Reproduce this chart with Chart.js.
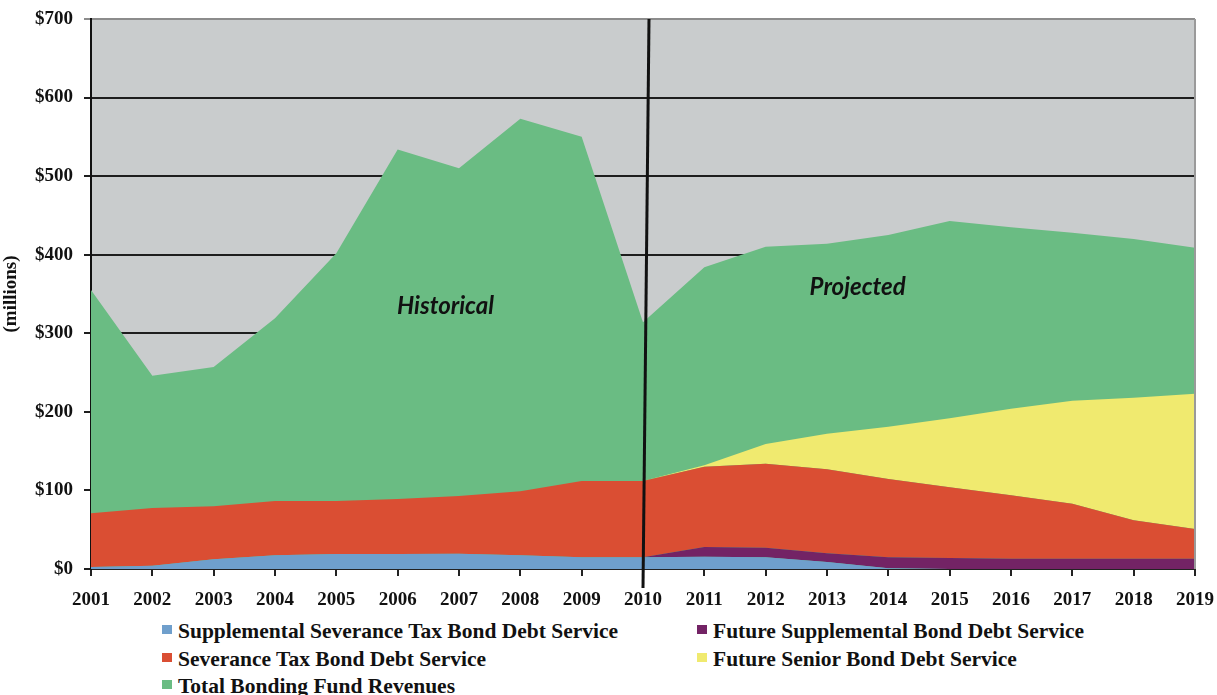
<!DOCTYPE html>
<html>
<head>
<meta charset="utf-8">
<script src="https://cdn.jsdelivr.net/npm/chart.js@4.4.1/dist/chart.umd.min.js"></script>
<style>
  html, body { margin: 0; padding: 0; background: #fff; }
  #wrap { position: relative; width: 1217px; height: 615px; }
  #legend { position: relative; width: 1217px; height: 80px; font-family: "Liberation Serif", "Times New Roman", serif; font-weight: bold; font-size: 21.5px; color: #111; }
  .item { position: absolute; white-space: nowrap; line-height: 24px; height: 24px; }
  .sw { position: absolute; width: 10px; height: 9px; left: 0; top: 6px; }
  .tx { position: absolute; left: 16px; top: 0; }
</style>
</head>
<body>
<div id="wrap"><canvas id="c" width="1217" height="615"></canvas></div>
<div id="legend"></div>
<script>
const years = ["2001","2002","2003","2004","2005","2006","2007","2008","2009","2010","2011","2012","2013","2014","2015","2016","2017","2018","2019"];
const suppSeverance = [2.5,4,12.5,17.5,19,19,19.5,17.5,15,15,15.5,15,9,1,0,0,0,0,0];
const futureSupp    = [0,0,0,0,0,0,0,0,0,0,12.5,12,11,14,14,13,13,13,13];
const severance     = [68.5,73.6,67.5,69,67.5,70,73.5,81.5,97,97,102,107,107,99.5,90,81,70,49,38];
const futureSenior  = [0,0,0,0,0,0,0,0,0,0,2,25,45,66.5,88,110,131,156,172];
const totalRevenues = [355,246,257,319,402,534,510,573,550,314,384,410,414,425,443,435,428,420,409];
const yTicks = [0,100,200,300,400,500,600,700];

const names = {
  supp: "Supplemental Severance Tax Bond Debt Service",
  fsupp: "Future Supplemental Bond Debt Service",
  sev: "Severance Tax Bond Debt Service",
  fsen: "Future Senior Bond Debt Service",
  tot: "Total Bonding Fund Revenues"
};
const colors = { supp: "#6f9fcc", fsupp: "#732365", sev: "#da4e33", fsen: "#f0ea6f", tot: "#6abc83" };

function ds(label, data, color, fill, stack) {
  return { label, data, backgroundColor: color, borderColor: color, borderWidth: 0, pointRadius: 0, tension: 0, fill, stack };
}

const bgPlugin = {
  id: "bg",
  beforeDraw(chart) {
    const { ctx, chartArea: a } = chart;
    ctx.save();
    ctx.fillStyle = "#c9cccd";
    ctx.fillRect(a.left, a.top, a.right - a.left, a.bottom - a.top);
    ctx.restore();
  },
  afterDraw(chart) {
    const { ctx, chartArea: a, scales } = chart;
    ctx.save();
    ctx.strokeStyle = "#9a9a9a";
    ctx.lineWidth = 2;
    ctx.beginPath(); ctx.moveTo(a.right, a.top); ctx.lineTo(a.right, a.bottom); ctx.stroke();
    const x = scales.x.getPixelForValue(9);
    ctx.strokeStyle = "#111";
    ctx.lineWidth = 3;
    ctx.beginPath(); ctx.moveTo(x + 6, a.top); ctx.lineTo(x, a.bottom + 19); ctx.stroke();
    ctx.fillStyle = "#111";
    ctx.font = "italic bold 24px Lato";
    ctx.textAlign = "center"; ctx.textBaseline = "middle";
    ctx.fillText("Historical", scales.x.getPixelForValue(5.78), scales.y.getPixelForValue(335));
    ctx.fillText("Projected", scales.x.getPixelForValue(12.5), scales.y.getPixelForValue(359));
    ctx.restore();
  }
};

const tickFont = { family: "Liberation Serif", weight: "bold", size: 19 };

new Chart(document.getElementById("c"), {
  type: "line",
  data: {
    labels: years,
    datasets: [
      ds(names.supp, suppSeverance, colors.supp, "origin", "debt"),
      ds(names.fsupp, futureSupp, colors.fsupp, "-1", "debt"),
      ds(names.sev, severance, colors.sev, "-1", "debt"),
      ds(names.fsen, futureSenior, colors.fsen, "-1", "debt"),
      ds(names.tot, totalRevenues, colors.tot, "origin", "rev")
    ]
  },
  plugins: [bgPlugin],
  options: {
    responsive: false,
    animation: false,
    events: [],
    layout: { padding: { top: 19, right: 22, left: 0, bottom: 0 } },
    plugins: { legend: { display: false }, tooltip: { enabled: false } },
    scales: {
      x: {
        offset: false,
        grid: { drawOnChartArea: false, drawTicks: true, tickLength: 7, color: "#222", lineWidth: 2 },
        border: { color: "#222", width: 2 },
        ticks: { color: "#111", font: tickFont, padding: 13, maxRotation: 0, autoSkip: false },
        afterFit(s) { s.height = 46; s.paddingRight = 0; s.paddingLeft = 0; }
      },
      y: {
        stacked: true,
        min: 0, max: 700,
        afterBuildTicks(s) { s.ticks = yTicks.map(v => ({ value: v })); },
        grid: { color: ctx => (ctx.tick && ctx.tick.value === 700) ? "#8c8c8c" : "#1e1e1e", lineWidth: 2, tickLength: 7 },
        border: { color: "#111", width: 2 },
        ticks: { color: "#111", font: tickFont, padding: 11, callback: v => "$" + v },
        title: { display: true, text: "(millions)", color: "#111", font: { family: "Liberation Serif", weight: "bold", size: 19 }, padding: { top: 0, bottom: 0 } },
        afterFit(s) { s.width = 91; s.paddingTop = 0; s.paddingBottom = 0; }
      }
    }
  }
});

const legendItems = [
  { key: "supp", left: 162, cy: 16 },
  { key: "fsupp", left: 697, cy: 16 },
  { key: "sev", left: 162, cy: 44 },
  { key: "fsen", left: 697, cy: 44 },
  { key: "tot", left: 162, cy: 71 }
];
const leg = document.getElementById("legend");
legendItems.forEach(it => {
  const d = document.createElement("div");
  d.className = "item";
  d.style.left = it.left + "px";
  d.style.top = (it.cy - 12) + "px";
  d.innerHTML = '<span class="sw" style="background:' + colors[it.key] + '"></span><span class="tx">' + names[it.key] + '</span>';
  leg.appendChild(d);
});
</script>
</body>
</html>
